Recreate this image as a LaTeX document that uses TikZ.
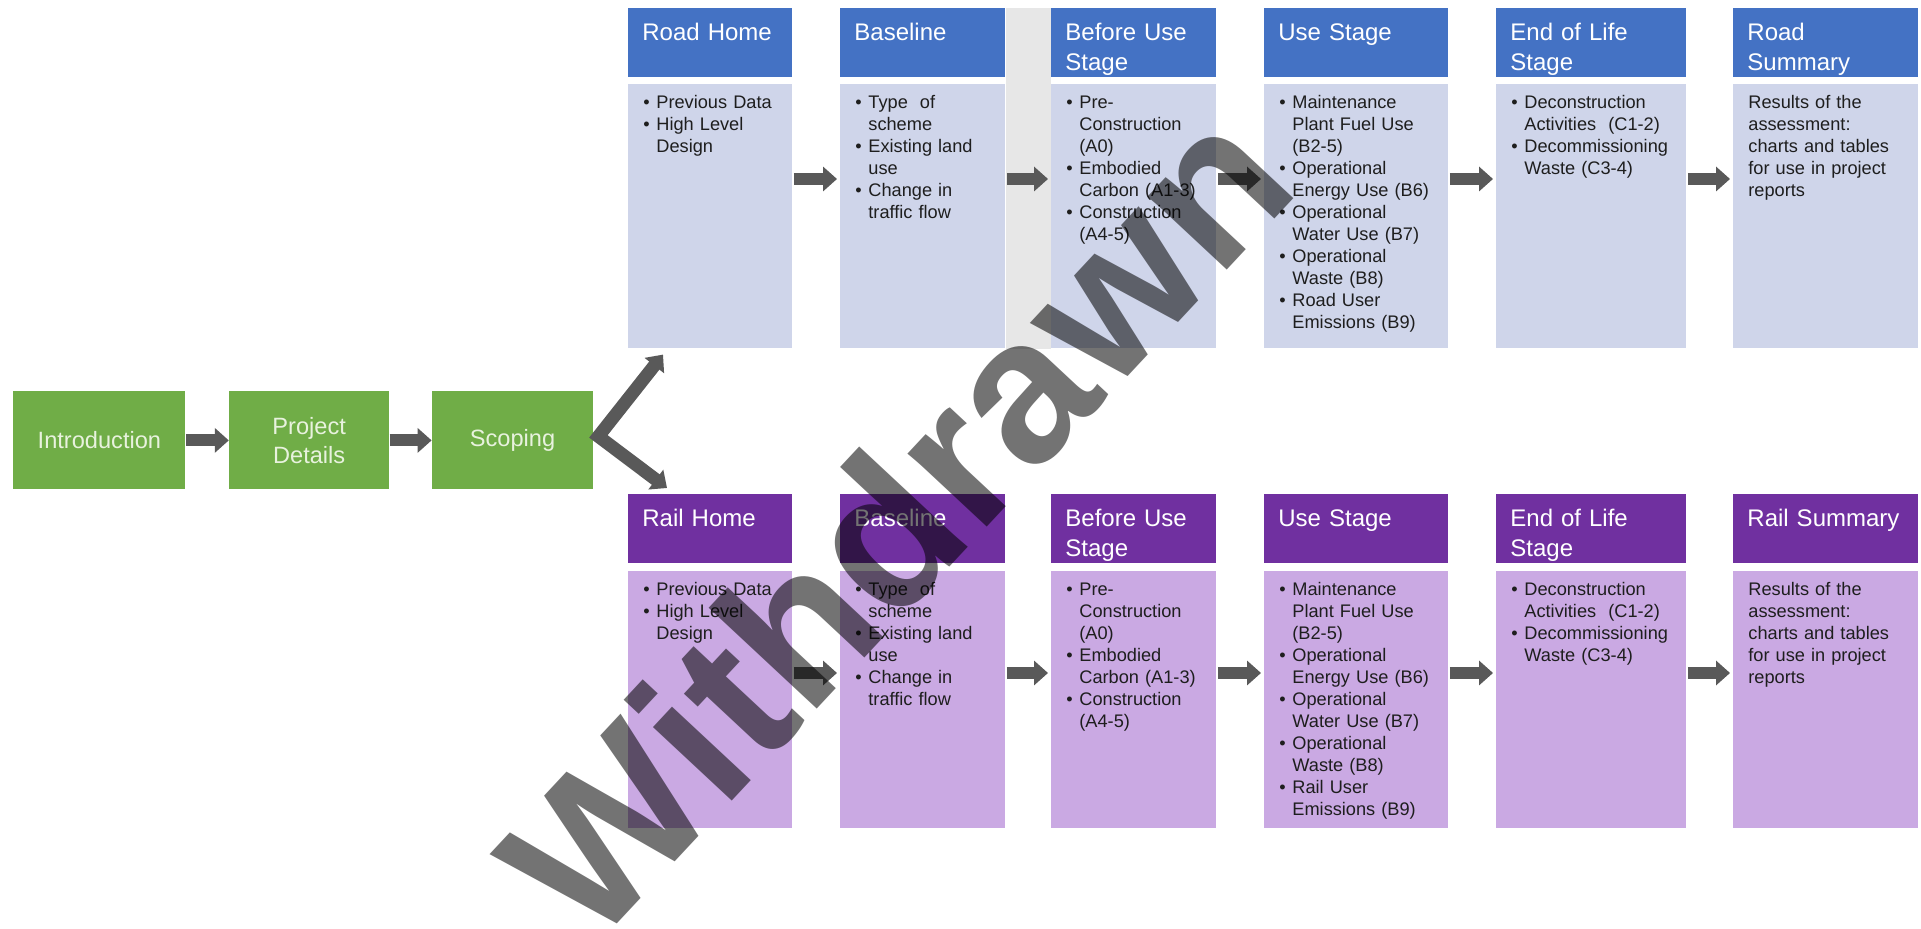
\documentclass[tikz,border=0pt]{standalone}
\usepackage{fontspec}
\setmainfont{Liberation Sans}
\usetikzlibrary{arrows.meta,positioning}
\hyphenpenalty=10000

\begin{document}
\begin{tikzpicture}[
        x=0.5pt, y=-0.5pt, % una unidad = un píxel, eje y hacia abajo
        >={Triangle[length=7pt,width=12pt]}, % punta ancha tipo bloque
        fase/.style={fill=verdefase, text=textoverde, align=center,
            minimum height=49pt, inner sep=0pt,
            font=\fontsize{11.8pt}{14.5pt}\selectfont},
        caja/.style={anchor=north west, align=left, inner ysep=0pt},
        cab/.style={caja, text width=#1, inner xsep=7pt, text=white,
            text height=16pt, text depth=18.5pt,
            font=\fontsize{12pt}{15pt}\selectfont},
        cue/.style={caja, text width=#1, inner xsep=7.5pt, text=textocuerpo,
            text height=12pt, font=\fontsize{9.1pt}{11pt}\selectfont},
        filaR/.style={fill=azulcuerpo, text depth=120pt},
        filaF/.style={fill=moradocuerpo, text depth=116.5pt},
        flecha/.style={->, color=grisflecha, line width=6pt,
            shorten <=0.5pt, shorten >=1.5pt}
    ]

        % --- CONFIGURACIÓN DE COLORES ---
        \definecolor{verdefase}{RGB}{112, 173, 71}
        \definecolor{textoverde}{RGB}{232, 242, 222}
        \definecolor{azulcab}{RGB}{68, 114, 196}
        \definecolor{azulcuerpo}{RGB}{207, 213, 234}
        \definecolor{moradocab}{RGB}{112, 48, 160}
        \definecolor{moradocuerpo}{RGB}{202, 169, 227}
        \definecolor{textocuerpo}{RGB}{30, 30, 30}
        \definecolor{grisflecha}{RGB}{89, 89, 89}
        \definecolor{grisfranja}{RGB}{231, 231, 231}

        % Viñeta y sangría de continuación
        \def\bul{\makebox[6.5pt][l]{\textbullet}}
        \def\sig{\hspace*{6.5pt}}

        % --- LIENZO ---
        \useasboundingbox (0,0) rectangle (1921,929);
        \fill[white] (0,0) rectangle (1921,929);

        % --- FASES INICIALES (VERDES) ---
        \node[fase, minimum width=86pt, anchor=north west] (Intro) at (13,391) {Introduction};
        \node[fase, minimum width=80pt, right=21.5pt of Intro] (Detalles) {Project\\Details};
        \node[fase, minimum width=80.5pt, right=21pt of Detalles] (Alcance) {Scoping};

        % --- FILA DE CARRETERA (AZUL) ---
        \node[cab=68pt, fill=azulcab] (R1) at (628,8) {Road Home};
        \node[cab=68.5pt, fill=azulcab] (R2) at (840,8) {Baseline};
        \node[cab=68.5pt, fill=azulcab] (R3) at (1051,8) {Before Use\\Stage};
        \node[cab=78pt, fill=azulcab] (R4) at (1264,8) {Use Stage};
        \node[cab=81pt, fill=azulcab] (R5) at (1496,8) {End of Life\\Stage};
        \node[cab=78.5pt, fill=azulcab] (R6) at (1733,8) {Road\\Summary};

        \node[cue=67pt, filaR, below right=3pt and 0pt of R1.south west] (R1c)
            {\bul Previous Data\\\bul High Level\\\sig Design};
        \node[cue=67.5pt, filaR, below right=3pt and 0pt of R2.south west] (R2c)
            {\bul Type~ of\\\sig scheme\\\bul Existing land\\\sig use\\\bul Change in\\\sig traffic flow};
        \node[cue=67.5pt, filaR, below right=3pt and 0pt of R3.south west] (R3c)
            {\bul Pre-\\\sig Construction\\\sig (A0)\\\bul Embodied\\\sig Carbon (A1-3)\\\bul Construction\\\sig (A4-5)};
        \node[cue=77pt, filaR, below right=3pt and 0pt of R4.south west] (R4c)
            {\bul Maintenance\\\sig Plant Fuel Use\\\sig (B2-5)\\\bul Operational\\\sig Energy Use (B6)\\\bul Operational\\\sig Water Use (B7)\\\bul Operational\\\sig Waste (B8)\\\bul Road User\\\sig Emissions (B9)};
        \node[cue=80pt, filaR, below right=3pt and 0pt of R5.south west] (R5c)
            {\bul Deconstruction\\\sig Activities~ (C1-2)\\\bul Decommissioning\\\sig Waste (C3-4)};
        \node[cue=77.5pt, filaR, below right=3pt and 0pt of R6.south west] (R6c)
            {Results of the\\assessment:\\charts and tables\\for use in project\\reports};

        % --- FILA DE FERROCARRIL (MORADO) ---
        \node[cab=68pt, fill=moradocab] (F1) at (628,494) {Rail Home};
        \node[cab=68.5pt, fill=moradocab] (F2) at (840,494) {Baseline};
        \node[cab=68.5pt, fill=moradocab] (F3) at (1051,494) {Before Use\\Stage};
        \node[cab=78pt, fill=moradocab] (F4) at (1264,494) {Use Stage};
        \node[cab=81pt, fill=moradocab] (F5) at (1496,494) {End of Life\\Stage};
        \node[cab=78.5pt, fill=moradocab] (F6) at (1733,494) {Rail Summary};

        \node[cue=67pt, filaF, below right=3.5pt and 0pt of F1.south west] (F1c)
            {\bul Previous Data\\\bul High Level\\\sig Design};
        \node[cue=67.5pt, filaF, below right=3.5pt and 0pt of F2.south west] (F2c)
            {\bul Type~ of\\\sig scheme\\\bul Existing land\\\sig use\\\bul Change in\\\sig traffic flow};
        \node[cue=67.5pt, filaF, below right=3.5pt and 0pt of F3.south west] (F3c)
            {\bul Pre-\\\sig Construction\\\sig (A0)\\\bul Embodied\\\sig Carbon (A1-3)\\\bul Construction\\\sig (A4-5)};
        \node[cue=77pt, filaF, below right=3.5pt and 0pt of F4.south west] (F4c)
            {\bul Maintenance\\\sig Plant Fuel Use\\\sig (B2-5)\\\bul Operational\\\sig Energy Use (B6)\\\bul Operational\\\sig Water Use (B7)\\\bul Operational\\\sig Waste (B8)\\\bul Rail User\\\sig Emissions (B9)};
        \node[cue=80pt, filaF, below right=3.5pt and 0pt of F5.south west] (F5c)
            {\bul Deconstruction\\\sig Activities~ (C1-2)\\\bul Decommissioning\\\sig Waste (C3-4)};
        \node[cue=77.5pt, filaF, below right=3.5pt and 0pt of F6.south west] (F6c)
            {Results of the\\assessment:\\charts and tables\\for use in project\\reports};

        % --- FRANJA GRIS ENTRE BASELINE Y BEFORE USE ---
        \fill[grisfranja] (R2.north east) rectangle (R3c.south west);

        % --- FLECHAS ENTRE FASES ---
        \coordinate (EjeR) at (0,179);
        \coordinate (EjeF) at (0,673);

        \draw[flecha, shorten <=0pt, shorten >=0pt] (Intro) -- (Detalles);
        \draw[flecha, shorten <=0pt, shorten >=0pt] (Detalles) -- (Alcance);

        \draw[flecha] (R1c.east |- EjeR) -- (R2c.west |- EjeR);
        \draw[flecha] (R2c.east |- EjeR) -- (R3c.west |- EjeR);
        \draw[flecha] (R3c.east |- EjeR) -- (R4c.west |- EjeR);
        \draw[flecha] (R4c.east |- EjeR) -- (R5c.west |- EjeR);
        \draw[flecha] (R5c.east |- EjeR) -- (R6c.west |- EjeR);

        \draw[flecha] (F1c.east |- EjeF) -- (F2c.west |- EjeF);
        \draw[flecha] (F2c.east |- EjeF) -- (F3c.west |- EjeF);
        \draw[flecha] (F3c.east |- EjeF) -- (F4c.west |- EjeF);
        \draw[flecha] (F4c.east |- EjeF) -- (F5c.west |- EjeF);
        \draw[flecha] (F5c.east |- EjeF) -- (F6c.west |- EjeF);

        % --- BIFURCACIÓN DESDE SCOPING ---
        \coordinate (Raiz) at ([xshift=2.5pt, yshift=2pt]Alcance.east);
        \coordinate (PuntaR) at ([xshift=17.5pt, yshift=-3pt]R1c.south west);
        \coordinate (PuntaF) at ([xshift=19.5pt, yshift=3pt]F1.north west);
        \draw[<->, color=grisflecha, line width=6.5pt, line join=miter]
            (PuntaR) -- (Raiz) -- (PuntaF);

        % --- SELLO DIAGONAL ---
        \node[rotate=47, anchor=base west, inner sep=0pt, text=black, text opacity=0.55,
            font=\bfseries\fontsize{102pt}{102pt}\selectfont] (Sello) at (592,951) {Withdrawn};

    \end{tikzpicture}
\end{document}
